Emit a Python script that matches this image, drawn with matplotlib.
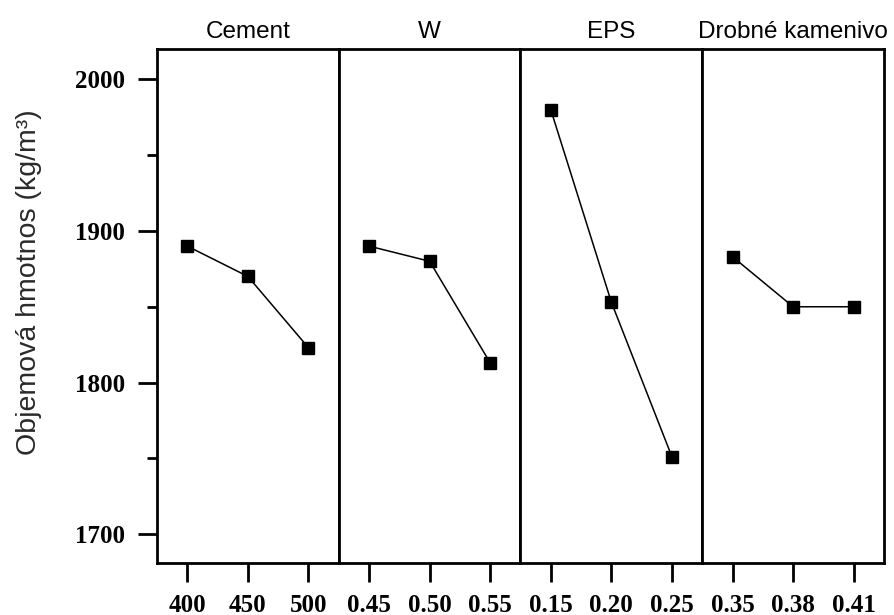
import matplotlib
matplotlib.use("Agg")
import matplotlib.pyplot as plt
from matplotlib.ticker import MultipleLocator

# faktory a hodnoty (odhad z obrazku)
titulky = ["Cement", "W", "EPS", "Drobné kamenivo"]
urovne = [["400", "450", "500"],
          ["0.45", "0.50", "0.55"],
          ["0.15", "0.20", "0.25"],
          ["0.35", "0.38", "0.41"]]
cement = [1890, 1870, 1823]
voda = [1890, 1880, 1813]
eps = [1980, 1853, 1751]
kamenivo = [1883, 1850, 1850]
hodnoty = [cement, voda, eps, kamenivo]

fig, axes = plt.subplots(1, 4, sharey=True, figsize=(8.95, 6.15), dpi=100)
fig.subplots_adjust(left=0.1754, right=0.9877, top=0.9203, bottom=0.0846, wspace=0)

tick_font = {"family": "Liberation Serif", "weight": "bold", "size": 18}

for i, ax in enumerate(axes):
    x = list(range(len(urovne[i])))
    ax.plot(x, hodnoty[i], "-", color="black", lw=1.1,
            marker="s", markersize=9, markerfacecolor="black")
    ax.set_xlim(-0.5, 2.5)
    ax.set_xticks(x)
    ax.set_xticklabels(urovne[i], fontdict=tick_font)
    ax.set_title(titulky[i], family="Liberation Sans", fontsize=17.5, pad=8)
    for s in ax.spines.values():
        s.set_linewidth(2)
    ax.tick_params(axis="x", direction="out", length=14, width=2, pad=8)
    if i > 0:
        ax.tick_params(axis="y", which="both", left=False, labelleft=False)

ax0 = axes[0]
ax0.set_ylim(1681, 2020)
ax0.yaxis.set_major_locator(MultipleLocator(100))
ax0.yaxis.set_minor_locator(MultipleLocator(50))
ax0.tick_params(axis="y", which="major", direction="out", length=14, width=2, pad=9)
ax0.tick_params(axis="y", which="minor", direction="out", length=7, width=2)
for lab in ax0.get_yticklabels():
    lab.set_fontproperties(matplotlib.font_manager.FontProperties(**tick_font))
ax0.set_ylabel("Objemová hmotnos (kg/m³)", family="Liberation Sans", fontsize=20.5,
               color="#2a2a2a")
ax0.yaxis.set_label_coords(-0.63, 0.547)

fig.savefig("out.png", dpi=100)
